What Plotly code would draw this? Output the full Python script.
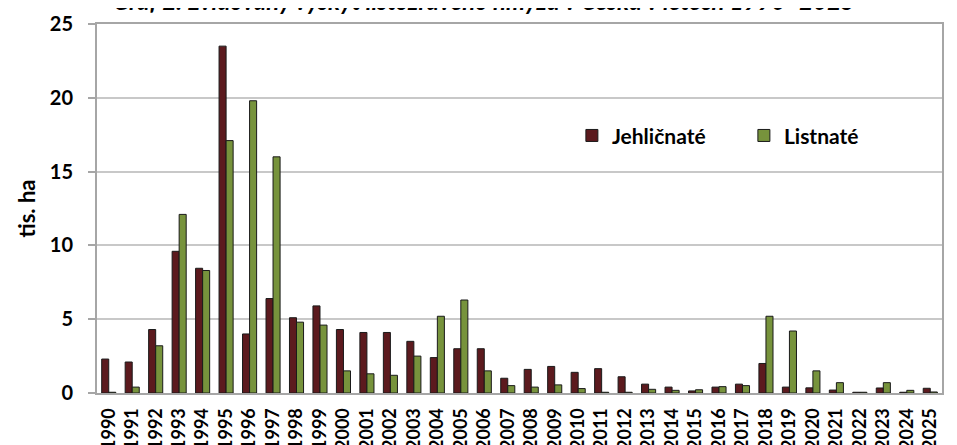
import plotly.graph_objects as go

years = [str(y) for y in range(1990, 2026)]
jehlicnate = [2.3, 2.1, 4.3, 9.6, 8.45, 23.5, 4.0, 6.4, 5.1, 5.9,
              4.3, 4.1, 4.1, 3.5, 2.4, 3.0, 3.0, 1.0, 1.6, 1.8,
              1.4, 1.65, 1.1, 0.6, 0.4, 0.14, 0.4, 0.6, 2.0, 0.4,
              0.35, 0.2, 0.05, 0.34, 0.05, 0.32]
listnate = [0.05, 0.4, 3.2, 12.1, 8.3, 17.1, 19.8, 16.0, 4.8, 4.6,
            1.5, 1.3, 1.2, 2.5, 5.2, 6.3, 1.5, 0.5, 0.4, 0.55,
            0.3, 0.05, 0.05, 0.25, 0.18, 0.22, 0.43, 0.5, 5.2, 4.2,
            1.5, 0.7, 0.05, 0.7, 0.18, 0.07]
y_ticks = [0, 5, 10, 15, 20, 25]
title_text = "Graf 2. Evidovaný výskyt listožravého hmyzu v Česku v letech 1990–2025"

FONT = "Lato"

fig = go.Figure()
fig.add_trace(go.Bar(x=years, y=jehlicnate, name="Jehličnaté",
                     marker=dict(color="#5C1A1E", line=dict(color="#1a1a1a", width=1))))
fig.add_trace(go.Bar(x=years, y=listnate, name="Listnaté",
                     marker=dict(color="#77933C", line=dict(color="#1a1a1a", width=1))))

fig.update_layout(
    width=957, height=445,
    margin=dict(l=89, r=23, t=16, b=60, autoexpand=False),
    paper_bgcolor="white", plot_bgcolor="white",
    barmode="group", bargap=0.4, bargroupgap=0.0,
    font=dict(family=FONT, color="black"),
    showlegend=True,
    legend=dict(orientation="h", x=0.562, y=0.697, xanchor="left", yanchor="middle",
                font=dict(family=FONT, size=21, color="black", weight="bold"),
                entrywidth=127, entrywidthmode="pixels", itemwidth=30,
                bgcolor="rgba(0,0,0,0)"),
    annotations=[dict(text="<b><i>" + title_text + "</i></b>", xref="paper", yref="paper",
                      x=0.458, y=1.065, xanchor="center", yanchor="middle", showarrow=False,
                      font=dict(family=FONT, size=24, color="black"))],
)
fig.update_xaxes(
    type="category", tickangle=-90, automargin=False,
    tickmode="array", tickvals=years, ticktext=years,
    tickfont=dict(family=FONT, size=18, color="black", weight="bold"),
    ticklabelstandoff=6,
    showline=True, linecolor="#a6a6a6", linewidth=2, mirror=True,
    ticks="", showgrid=False,
)
fig.update_yaxes(
    range=[0, 25], tickvals=y_ticks, automargin=False,
    tickfont=dict(family=FONT, size=20, color="black", weight="bold"),
    showline=True, linecolor="#a6a6a6", linewidth=2, mirror=True,
    ticks="outside", ticklen=7, tickcolor="#a6a6a6", tickwidth=1.5,
    ticklabelstandoff=11,
    showgrid=True, gridcolor="#c8c8c8", gridwidth=1.5,
    title=dict(text="tis. ha", font=dict(family=FONT, size=22, color="black", weight="bold"),
               standoff=8),
    zeroline=False,
)
fig.write_html("out.html")
